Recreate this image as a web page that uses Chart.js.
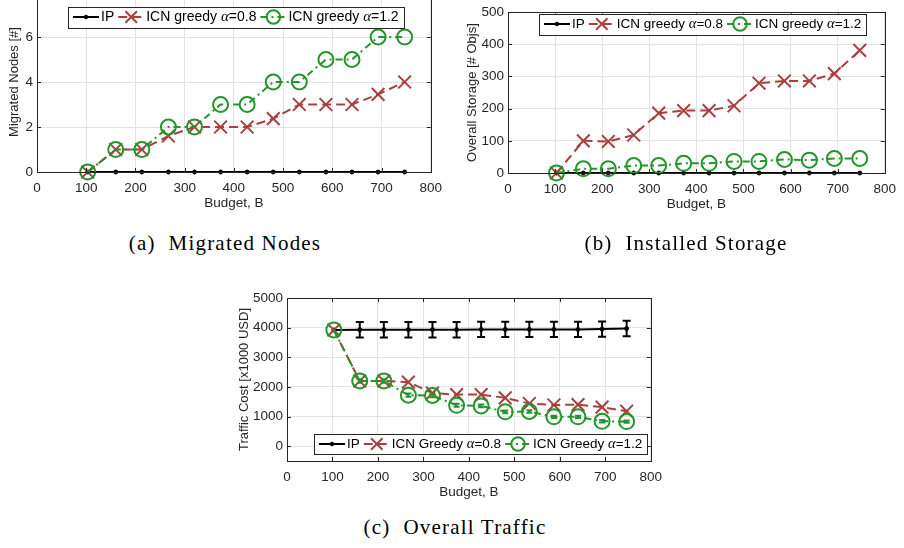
<!DOCTYPE html>
<html>
<head>
<meta charset="utf-8">
<script src="https://cdn.jsdelivr.net/npm/chart.js@4.4.1/dist/chart.umd.min.js"></script>
<style>
  body { margin: 0; background: #fff; }
  #page { position: relative; width: 904px; height: 548px; overflow: hidden; background: #fff; }
  canvas { position: absolute; }
  .cap { position: absolute; font-family: "Liberation Serif", serif; font-size: 21px; color: #000;
         white-space: pre; transform: translate(-50%, -50%); letter-spacing: 1.2px; }
</style>
</head>
<body>
<div id="page">
  <canvas id="ca" width="450" height="250" style="left:0px;top:-30px"></canvas>
  <canvas id="cb" width="454" height="250" style="left:450px;top:0px"></canvas>
  <canvas id="cc" width="450" height="230" style="left:220px;top:280px"></canvas>
  <div class="cap" style="left:225px;top:243px">(a)  Migrated Nodes</div>
  <div class="cap" style="left:686px;top:243px">(b)  Installed Storage</div>
  <div class="cap" style="left:455px;top:527px">(c)  Overall Traffic</div>
</div>
<script>
// budget values on the x axis (same for all three plots)
const budget = [103, 160, 213, 267, 320, 373, 427, 480, 533, 587, 640, 693, 747];
const xTicks = [0, 100, 200, 300, 400, 500, 600, 700, 800];

// (a) migrated nodes
const nodesIP  = [0, 0, 0, 0, 0, 0, 0, 0, 0, 0, 0, 0, 0];
const nodesG08 = [0, 1, 1, 1.6, 2, 2, 2, 2.37, 3, 3, 3, 3.45, 4];
const nodesG12 = [0, 1, 1, 2, 2, 3, 3, 4, 4, 5, 5, 6, 6];
const nodesTicks = [0, 2, 4, 6, 8];

// (b) installed storage
const storIP  = [0, 0, 0, 0, 0, 0, 0, 0, 0, 0, 0, 0, 0];
const storG08 = [0, 100, 98, 118, 186, 194, 194, 209, 279, 286, 286, 309, 381];
const storG12 = [0, 13, 13, 23, 23, 30, 30, 36, 36, 42, 40, 45, 45];
const storTicks = [0, 100, 200, 300, 400, 500];

// (c) overall traffic
const costIP     = [3920, 3930, 3930, 3930, 3930, 3930, 3940, 3940, 3940, 3940, 3940, 3950, 3970];
const costIPErr  = [0, 260, 260, 260, 260, 260, 260, 260, 260, 260, 260, 260, 260];
const costG08    = [3920, 2200, 2200, 2160, 1790, 1740, 1740, 1630, 1440, 1390, 1400, 1320, 1180];
const costG12    = [3920, 2200, 2200, 1720, 1710, 1380, 1360, 1160, 1170, 990, 990, 840, 830];
const costG12Err = [0, 60, 60, 55, 55, 50, 50, 45, 45, 40, 40, 40, 40];
const costTicks  = [0, 1000, 2000, 3000, 4000, 5000];

const RED = '#a8403f';
const GREEN = '#23952a';
const INK = '#262626';
const SANS = '"Liberation Sans", Arial, sans-serif';

Chart.defaults.font.family = SANS;
Chart.defaults.color = INK;

// box round the plot with inward ticks, like matlab
const frame = {
  id: 'frame',
  afterDatasetsDraw(chart) {
    const { ctx, chartArea: a, scales } = chart;
    const tl = 4;
    ctx.save();
    ctx.strokeStyle = INK;
    ctx.lineWidth = 1;
    ctx.strokeRect(Math.round(a.left) + 0.5, Math.round(a.top) + 0.5,
      Math.round(a.right - a.left), Math.round(a.bottom - a.top));
    ctx.beginPath();
    scales.x.ticks.forEach(t => {
      const px = Math.round(scales.x.getPixelForValue(t.value)) + 0.5;
      ctx.moveTo(px, a.bottom); ctx.lineTo(px, a.bottom - tl);
      ctx.moveTo(px, a.top); ctx.lineTo(px, a.top + tl);
    });
    scales.y.ticks.forEach(t => {
      const py = Math.round(scales.y.getPixelForValue(t.value)) + 0.5;
      ctx.moveTo(a.left, py); ctx.lineTo(a.left + tl, py);
      ctx.moveTo(a.right, py); ctx.lineTo(a.right - tl, py);
    });
    ctx.stroke();
    ctx.restore();
  }
};

// vertical error bars for datasets carrying an errorBars array
const errorBars = {
  id: 'errorBars',
  afterDatasetsDraw(chart) {
    const { ctx, scales } = chart;
    chart.data.datasets.forEach(ds => {
      if (!ds.errorBars) return;
      ctx.save();
      ctx.strokeStyle = ds.borderColor;
      ctx.lineWidth = ds.errWidth || 2;
      const cap = ds.errCap || 4;
      ds.data.forEach((v, i) => {
        const e = ds.errorBars[i];
        if (!e) return;
        const px = scales.x.getPixelForValue(budget[i]);
        const y1 = scales.y.getPixelForValue(v - e);
        const y2 = scales.y.getPixelForValue(v + e);
        ctx.beginPath();
        ctx.moveTo(px, y1); ctx.lineTo(px, y2);
        ctx.moveTo(px - cap, y1); ctx.lineTo(px + cap, y1);
        ctx.moveTo(px - cap, y2); ctx.lineTo(px + cap, y2);
        ctx.stroke();
      });
      ctx.restore();
    });
  }
};

// boxed legend with line samples and an italic alpha
const boxLegend = {
  id: 'boxLegend',
  afterDraw(chart, args, o) {
    const ctx = chart.ctx;
    const font = o.size + 'px ' + SANS;
    const afont = 'italic ' + (o.size + 1) + 'px "Liberation Serif", serif';
    const sample = 26;
    ctx.save();
    const widthOf = parts => parts.reduce((w, p) => {
      ctx.font = p.a ? afont : font;
      return w + ctx.measureText(p.t).width;
    }, 0);
    const items = chart.data.datasets.slice().sort((p, q) => p.legendIndex - q.legendIndex);
    let total = 5;
    items.forEach(ds => { total += sample + 2 + widthOf(ds.parts) + 4; });
    total += 1;
    const h = o.h;
    ctx.fillStyle = '#fff';
    ctx.fillRect(o.x, o.y - h / 2, total, h);
    ctx.strokeStyle = INK;
    ctx.lineWidth = 1;
    ctx.strokeRect(Math.round(o.x) + 0.5, Math.round(o.y - h / 2) + 0.5, Math.round(total), h);
    let x = o.x + 5;
    const y = o.y;
    items.forEach(ds => {
      ctx.save();
      ctx.strokeStyle = ds.borderColor;
      ctx.lineWidth = ds.borderWidth;
      ctx.setLineDash(ds.borderDash || []);
      ctx.beginPath();
      ctx.moveTo(x, y); ctx.lineTo(x + sample, y);
      ctx.stroke();
      ctx.restore();
      ctx.save();
      ctx.strokeStyle = ds.borderColor;
      ctx.fillStyle = ds.pointBackgroundColor;
      ctx.lineWidth = ds.pointBorderWidth;
      Chart.helpers.drawPoint(ctx, { pointStyle: ds.pointStyle, radius: ds.pointRadius * 0.9, rotation: 0, borderWidth: ds.pointBorderWidth },
        x + sample / 2, y);
      ctx.restore();
      x += sample + 2;
      ctx.fillStyle = '#000';
      ctx.textBaseline = 'middle';
      ds.parts.forEach(p => {
        ctx.font = p.a ? afont : font;
        ctx.fillText(p.t, x, y + 0.5);
        x += ctx.measureText(p.t).width;
      });
      x += 4;
    });
    ctx.restore();
  }
};

function series(word, ip, g08, g12) {
  return [
    {
      data: g12, parts: [{ t: 'ICN ' + word + ' ' }, { t: 'α', a: true }, { t: '=1.2' }],
      legendIndex: 2, order: 0,
      borderColor: GREEN, borderWidth: 2, borderDash: [7, 4, 2, 4],
      pointStyle: 'circle', pointRadius: 7.5, pointBorderWidth: 2,
      pointBackgroundColor: 'rgba(0,0,0,0)', pointBorderColor: GREEN, clip: false
    },
    {
      data: g08, parts: [{ t: 'ICN ' + word + ' ' }, { t: 'α', a: true }, { t: '=0.8' }],
      legendIndex: 1, order: 1,
      borderColor: RED, borderWidth: 2, borderDash: [9, 5],
      pointStyle: 'crossRot', pointRadius: 9, pointBorderWidth: 2,
      pointBackgroundColor: 'rgba(0,0,0,0)', pointBorderColor: RED, clip: false
    },
    {
      data: ip, parts: [{ t: 'IP' }],
      legendIndex: 0, order: 2,
      borderColor: '#000', borderWidth: 2,
      pointStyle: 'circle', pointRadius: 2, pointBorderWidth: 1,
      pointBackgroundColor: '#000', pointBorderColor: '#000', clip: false
    }
  ];
}

function makeChart(id, cfg) {
  new Chart(document.getElementById(id), {
    type: 'line',
    data: { labels: budget, datasets: cfg.datasets },
    options: {
      responsive: false,
      animation: false,
      layout: { padding: cfg.pad },
      plugins: { legend: { display: false }, tooltip: { enabled: false }, boxLegend: cfg.legend },
      scales: {
        x: {
          type: 'linear', min: 0, max: 800,
          afterBuildTicks: s => { s.ticks = xTicks.map(v => ({ value: v })); },
          afterFit: s => { s.height = 43; },
          grid: { color: '#e3e3e3', drawTicks: false },
          border: { display: false },
          ticks: { padding: 8, font: { size: 13.5 }, color: INK, maxRotation: 0, callback: v => String(v) },
          title: { display: true, text: 'Budget, B', font: { size: 13.5 }, color: INK, padding: { top: 4, bottom: 4 } }
        },
        y: {
          min: cfg.yMin, max: cfg.yMax,
          afterBuildTicks: s => { s.ticks = cfg.yTicks.map(v => ({ value: v })); },
          afterFit: s => { s.width = cfg.yW; },
          grid: { color: '#e3e3e3', drawTicks: false },
          border: { display: false },
          ticks: { padding: 4, font: { size: 13.5 }, color: INK, callback: v => String(v) },
          title: { display: true, text: cfg.yTitle, font: { size: 13 }, color: INK, padding: { top: 4, bottom: 4 } }
        }
      }
    },
    plugins: [errorBars, frame, boxLegend]
  });
}

makeChart('ca', {
  datasets: series('greedy', nodesIP, nodesG08, nodesG12),
  pad: { left: 3, right: 17, top: 22, bottom: 5 },
  yW: 34, yMin: 0, yMax: 8, yTicks: nodesTicks, yTitle: 'Migrated Nodes [#]',
  legend: { x: 68, y: 47, h: 21, size: 14 }
});

makeChart('cb', {
  datasets: series('greedy', storIP, storG08, storG12),
  pad: { left: 11, right: 14, top: 7, bottom: 34 },
  yW: 47, yMin: 0, yMax: 500, yTicks: storTicks, yTitle: 'Overall Storage [# Objs]',
  legend: { x: 89, y: 24, h: 21, size: 13.5 }
});

const dsC = series('Greedy', costIP, costG08, costG12);
dsC[0].errorBars = costG12Err; dsC[0].errCap = 3;
dsC[2].errorBars = costIPErr; dsC[2].errCap = 4;
makeChart('cc', {
  datasets: dsC,
  pad: { left: 13, right: 7, top: 18, bottom: 6 },
  yW: 54, yMin: -500, yMax: 5000, yTicks: costTicks, yTitle: 'Traffic Cost [x1000 USD]',
  legend: { x: 94, y: 164, h: 20, size: 13.5 }
});
</script>
</body>
</html>
